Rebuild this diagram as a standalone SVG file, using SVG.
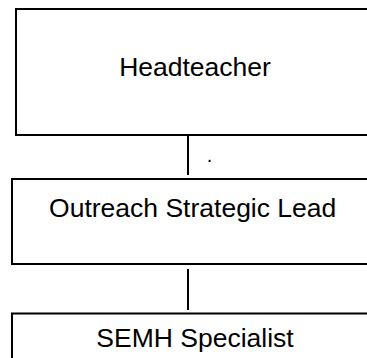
<svg xmlns="http://www.w3.org/2000/svg" width="367" height="358" viewBox="0 0 367 358">
<style>
.box{fill:#fff;stroke:#000;stroke-width:2}
.lbl{font-family:"Liberation Sans",Arial,sans-serif;font-size:26.5px;fill:#000;text-anchor:middle}
.con{stroke:#000;stroke-width:2;fill:none}
</style>
<rect width="367" height="358" fill="#fff"/>
<g id="headteacher">
<rect class="box" x="16" y="9" width="360" height="126"/>
<text class="lbl" x="195" y="76">Headteacher</text>
</g>
<g id="outreach-lead">
<rect class="box" x="12" y="179" width="366" height="85"/>
<text class="lbl" x="192.7" y="217">Outreach Strategic Lead</text>
</g>
<g id="semh-specialist">
<rect class="box" x="12" y="313.5" width="366" height="60"/>
<text class="lbl" x="195" y="347">SEMH Specialist</text>
</g>
<g id="connectors">
<line class="con" x1="188" y1="135" x2="188" y2="175"/>
<line class="con" x1="188" y1="269" x2="188" y2="310"/>
</g>
<text x="206.7" y="162" font-family="Liberation Sans, Arial, sans-serif" font-size="20" fill="#000">.</text>
</svg>
